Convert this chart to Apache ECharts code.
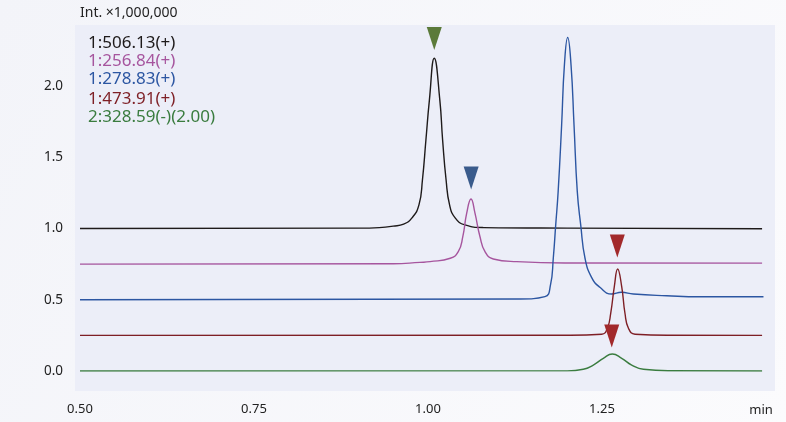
<!DOCTYPE html>
<html>
<head>
<meta charset="utf-8">
<script src="https://cdn.jsdelivr.net/npm/echarts@6/dist/echarts.min.js"></script>
<style>
  html, body { margin: 0; padding: 0; }
  #chart { width: 786px; height: 422px; }
</style>
</head>
<body>
<div id="chart"></div>
<script>
// retention time (min), intensity (x1,000,000) with display offsets already in
var trace506 = [
  [0.5, 1.0], [0.9, 1.002], [0.93, 1.006], [0.95, 1.016], [0.965, 1.03],
  [0.977, 1.074], [0.987, 1.165], [0.992, 1.34], [0.997, 1.62], [1.002, 1.9],
  [1.009, 2.194], [1.017, 1.9], [1.021, 1.62], [1.026, 1.34], [1.031, 1.165],
  [1.039, 1.074], [1.053, 1.025], [1.08, 1.006], [1.2, 1.002], [1.48, 0.998]
];
var trace256 = [
  [0.5, 0.75], [0.95, 0.752], [0.9885, 0.762], [1.003, 0.767], [1.032, 0.791],
  [1.0435, 0.837], [1.05, 0.942], [1.0556, 1.107], [1.0618, 1.207],
  [1.0675, 1.107], [1.0747, 0.942], [1.0819, 0.837], [1.0938, 0.786],
  [1.1274, 0.767], [1.2, 0.758], [1.48, 0.757]
];
var trace278 = [
  [0.5, 0.5], [1.132, 0.505], [1.168, 0.522], [1.176, 0.604], [1.18, 0.791],
  [1.1835, 1.025], [1.187, 1.258], [1.192, 1.726], [1.196, 2.147],
  [1.2007, 2.339], [1.2055, 2.147], [1.2098, 1.726], [1.2145, 1.258],
  [1.2194, 1.025], [1.2256, 0.791], [1.235, 0.657], [1.247, 0.587],
  [1.264, 0.54], [1.278, 0.552], [1.295, 0.54], [1.343, 0.528],
  [1.391, 0.521], [1.482, 0.521]
];
var trace473 = [
  [0.5, 0.25], [1.204, 0.251], [1.2496, 0.258], [1.2577, 0.3], [1.2625, 0.405],
  [1.2677, 0.592], [1.2725, 0.716], [1.2783, 0.592], [1.283, 0.405],
  [1.288, 0.3], [1.2974, 0.258], [1.3477, 0.251], [1.48, 0.25]
];
var trace328 = [
  [0.5, 0.0], [1.2, 0.001], [1.2231, 0.012], [1.2375, 0.042], [1.2519, 0.089],
  [1.2648, 0.119], [1.2783, 0.089], [1.2927, 0.042], [1.3094, 0.012],
  [1.3477, 0.002], [1.48, 0.0]
];

// peak markers (triangles)
var markGreen = [[1.009, 2.333]];
var markBlue = [[1.062, 1.354]];
var markRed = [[1.272, 0.877], [1.264, 0.246]];

var traceNames = ["1:506.13(+)", "1:256.84(+)", "1:278.83(+)", "1:473.91(+)", "2:328.59(-)(2.00)"];
var traceColors = ["#1e1a1a", "#a6559e", "#2c56a2", "#7e1f25", "#3a7c3f"];
var xTicks = [0.5, 0.75, 1.0, 1.25];
var yTicks = [0, 0.5, 1.0, 1.5, 2.0];

var chartDom = document.getElementById("chart");
var myChart = echarts.init(chartDom);

var font = "Noto Sans";
var legendY = [43, 61, 79, 99, 117];

var legendText = traceNames.map(function (name, i) {
  return {
    type: "text",
    x: 88,
    y: legendY[i],
    style: {
      text: name,
      fill: traceColors[i],
      fontSize: 17,
      fontFamily: font,
      verticalAlign: "middle"
    }
  };
});

function lineSeries(data, color) {
  return {
    type: "line",
    data: data,
    showSymbol: false,
    smooth: 0.5,
    lineStyle: { width: 1.4, color: color },
    itemStyle: { color: color },
    silent: true
  };
}

function markSeries(data, color) {
  return {
    type: "scatter",
    data: data,
    symbol: "triangle",
    symbolRotate: 180,
    symbolSize: [15, 23],
    itemStyle: { color: color, opacity: 1 },
    z: 5,
    silent: true
  };
}

var option = {
  backgroundColor: new echarts.graphic.LinearGradient(0, 0, 1, 1, [
    { offset: 0, color: "#f3f4f9" },
    { offset: 1, color: "#fbfbfd" }
  ]),
  animation: false,
  textStyle: { fontFamily: font },
  grid: { left: 80, right: 10, top: 26, bottom: 51 },
  graphic: [
    {
      type: "rect",
      shape: { x: 75, y: 25, width: 700, height: 366 },
      style: { fill: "#eceef8" },
      z: -10
    },
    {
      type: "text",
      x: 80,
      y: 13,
      style: { text: "Int. ×1,000,000", fill: "#222", fontSize: 14, fontFamily: font, verticalAlign: "middle" }
    },
    {
      type: "text",
      x: 761,
      y: 410,
      style: { text: "min", fill: "#222", fontSize: 13, fontFamily: font, align: "center", verticalAlign: "middle" }
    }
  ].concat(legendText),
  xAxis: {
    type: "value",
    min: 0.5,
    max: 1.5,
    interval: 0.25,
    axisLine: { show: false },
    axisTick: { show: false },
    splitLine: { show: false },
    axisLabel: {
      margin: 32,
      color: "#222",
      fontSize: 13,
      showMaxLabel: false,
      formatter: function (v) {
        return xTicks.indexOf(v) >= 0 ? v.toFixed(2) : "";
      }
    }
  },
  yAxis: {
    type: "value",
    min: 0,
    max: 2.42,
    interval: 0.5,
    axisLine: { show: false },
    axisTick: { show: false },
    splitLine: { show: false },
    axisLabel: {
      margin: 17,
      color: "#222",
      fontSize: 13.5,
      showMaxLabel: false,
      formatter: function (v) {
        return yTicks.indexOf(v) >= 0 ? v.toFixed(1) : "";
      }
    }
  },
  series: [
    lineSeries(trace506, traceColors[0]),
    lineSeries(trace256, traceColors[1]),
    lineSeries(trace278, traceColors[2]),
    lineSeries(trace473, traceColors[3]),
    lineSeries(trace328, traceColors[4]),
    markSeries(markGreen, "#5b7a3a"),
    markSeries(markBlue, "#3a5b8c"),
    markSeries(markRed, "#a2292b")
  ]
};

if (option && typeof option === "object") {
  myChart.setOption(option);
}

window.addEventListener("resize", myChart.resize);
</script>
</body>
</html>
